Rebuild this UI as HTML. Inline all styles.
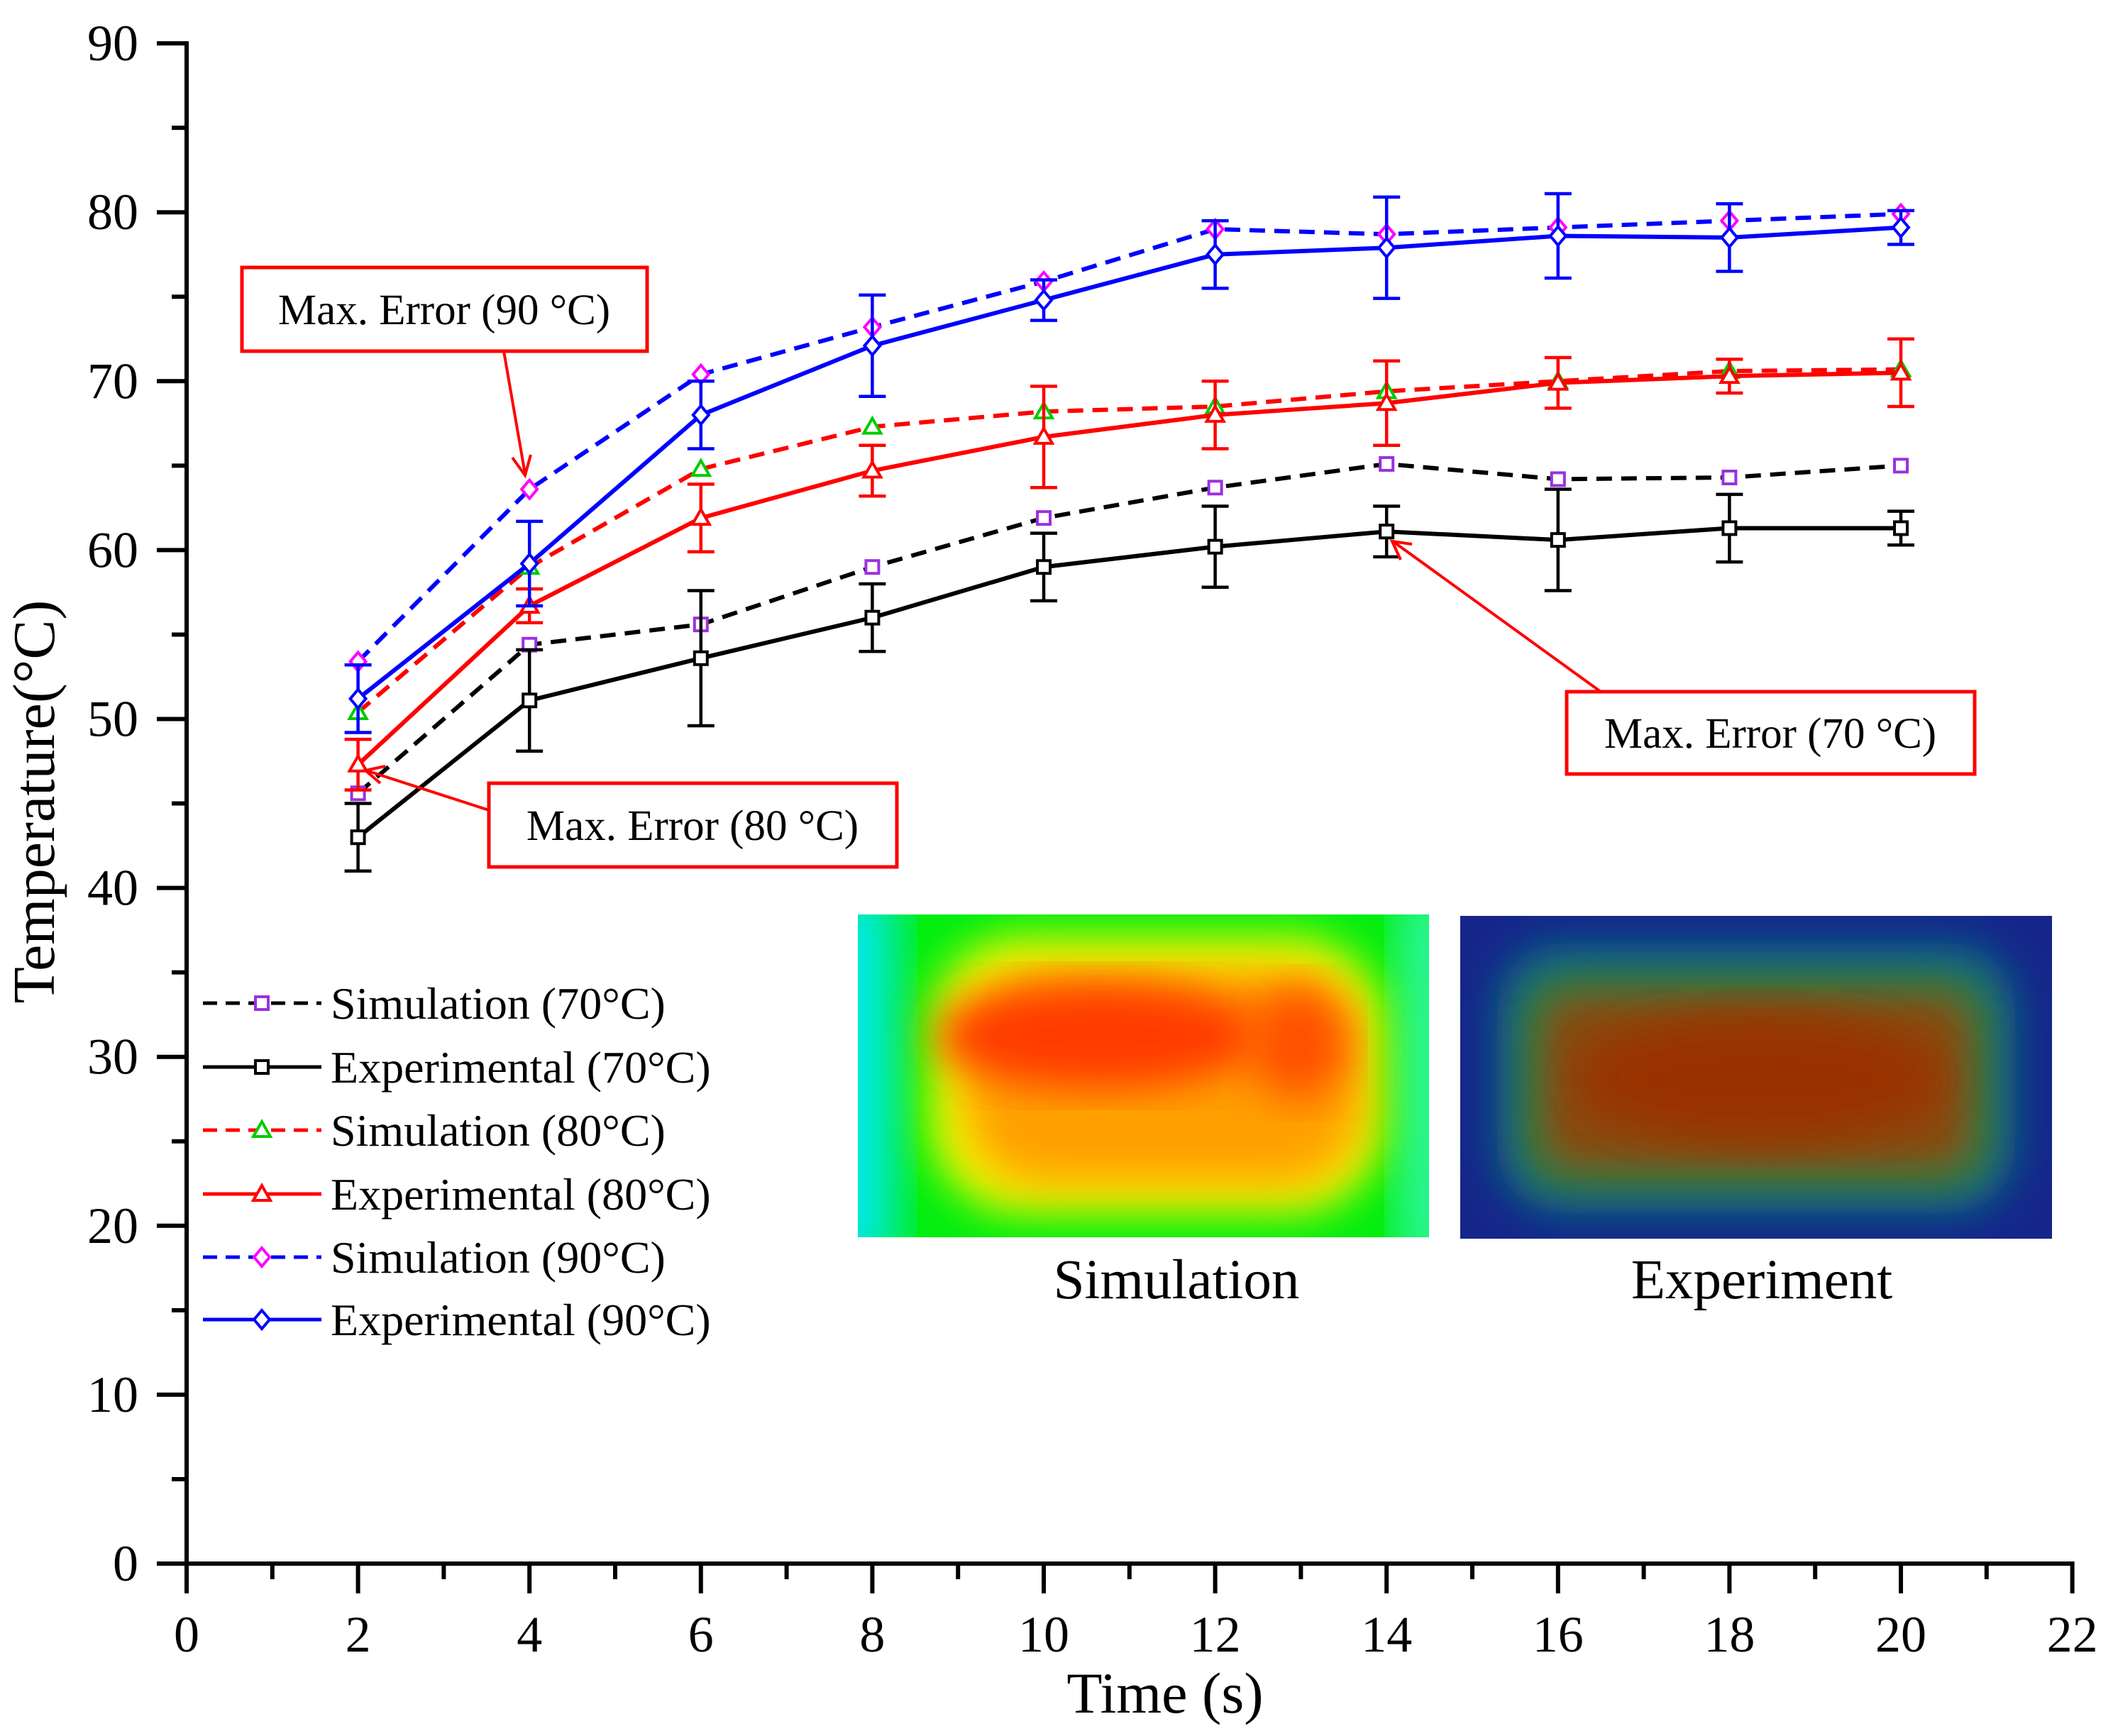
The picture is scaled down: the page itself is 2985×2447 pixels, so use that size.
<!DOCTYPE html>
<html><head><meta charset="utf-8"><style>
html,body{margin:0;padding:0;background:#fff}
svg{display:block}
text{font-family:"Liberation Serif",serif}
</style></head><body>
<svg id="chart" xmlns="http://www.w3.org/2000/svg" width="2985" height="2447" viewBox="0 0 2985 2447">
<defs>
<filter id="blur" x="-20%" y="-20%" width="140%" height="140%"><feGaussianBlur stdDeviation="30"/></filter>
<filter id="blur2" x="-30%" y="-30%" width="160%" height="160%"><feGaussianBlur stdDeviation="35"/></filter>
<clipPath id="c1"><rect x="1209" y="1289" width="805" height="455"/></clipPath>
<clipPath id="c2"><rect x="2058" y="1291" width="834" height="455"/></clipPath>
</defs>
<g id="heatmaps">
<g clip-path="url(#c1)">
<rect x="1209" y="1289" width="805" height="455" fill="#00ee10"/>
<rect x="1150" y="1250" width="110" height="540" fill="#00e8f0" filter="url(#blur2)"/>
<rect x="1975" y="1250" width="80" height="540" fill="#30f8b0" filter="url(#blur2)"/>
<rect x="1310" y="1320" width="640" height="390" rx="130" fill="#f6f600" filter="url(#blur)"/>
<rect x="1360" y="1370" width="560" height="300" rx="110" fill="#ffa000" filter="url(#blur)"/>
<ellipse cx="1550" cy="1460" rx="230" ry="75" fill="#ff3a00" filter="url(#blur)"/>
<ellipse cx="1830" cy="1470" rx="70" ry="80" fill="#ff5000" filter="url(#blur)"/>
</g>
<g clip-path="url(#c2)">
<rect x="2058" y="1291" width="834" height="455" fill="#15258a"/>
<rect x="2110" y="1330" width="730" height="380" rx="90" fill="#0a6a80" filter="url(#blur)"/>
<rect x="2150" y="1380" width="650" height="290" rx="50" fill="#2a8a40" filter="url(#blur)"/>
<rect x="2170" y="1400" width="610" height="250" rx="40" fill="#8a4a08" filter="url(#blur)"/>
<ellipse cx="2480" cy="1520" rx="260" ry="90" fill="#9a3305" filter="url(#blur)"/>
</g>
<text x="1658" y="1830" font-size="79" text-anchor="middle">Simulation</text>
<text x="2483" y="1830" font-size="79" text-anchor="middle">Experiment</text>
</g>
<g id="axes"></g>
<g id="series"></g>
<g id="annotations">
<g>
<rect x="341" y="377" width="571" height="118" fill="#fff" stroke="#ff0000" stroke-width="5"/>
<text x="626" y="457" font-size="61" text-anchor="middle">Max. Error (90 °C)</text>
<line x1="710" y1="495" x2="740" y2="668" stroke="#ff0000" stroke-width="4"/>
<path d="M722,645 L740,670 L748,641" fill="none" stroke="#ff0000" stroke-width="4"/>
</g>
<g>
<rect x="689" y="1104" width="575" height="118" fill="#fff" stroke="#ff0000" stroke-width="5"/>
<text x="976" y="1184" font-size="61" text-anchor="middle">Max. Error (80 °C)</text>
<line x1="689" y1="1142" x2="516" y2="1086" stroke="#ff0000" stroke-width="4"/>
<path d="M543,1080 L515,1086 L536,1104" fill="none" stroke="#ff0000" stroke-width="4"/>
</g>
<g>
<rect x="2208" y="975" width="575" height="116" fill="#fff" stroke="#ff0000" stroke-width="5"/>
<text x="2495" y="1054" font-size="61" text-anchor="middle">Max. Error (70 °C)</text>
<line x1="2256" y1="975" x2="1963" y2="763" stroke="#ff0000" stroke-width="4"/>
<path d="M1974,789 L1962,763 L1990,767" fill="none" stroke="#ff0000" stroke-width="4"/>
</g>
</g>
<g id="legend"></g>
</svg>
<script>
const xVals = [2,4,6,8,10,12,14,16,18,20];
const sim70 = [45.6,54.4,55.6,59.0,61.9,63.7,65.1,64.2,64.3,65.0];
const exp70 = [43.0,51.1,53.6,56.0,59.0,60.2,61.1,60.6,61.3,61.3];
const err70 = [2.0,3.0,4.0,2.0,2.0,2.4,1.5,3.0,2.0,1.0];
const sim80 = [50.4,59.0,64.8,67.3,68.2,68.5,69.4,70.0,70.6,70.7];
const exp80 = [47.3,56.7,61.9,64.7,66.7,68.0,68.7,69.9,70.3,70.5];
const err80 = [1.5,1.0,2.0,1.5,3.0,2.0,2.5,1.5,1.0,2.0];
const sim90 = [53.4,63.6,70.4,73.2,75.9,79.0,78.7,79.1,79.5,79.9];
const exp90 = [51.2,59.2,68.0,72.1,74.8,77.5,77.9,78.6,78.5,79.1];
const err90 = [2.0,2.5,2.0,3.0,1.2,2.0,3.0,2.5,2.0,1.0];
const xTicks = [0,2,4,6,8,10,12,14,16,18,20,22];
const yTicks = [0,10,20,30,40,50,60,70,80,90];
const legendLabels = ["Simulation (70°C)","Experimental (70°C)","Simulation (80°C)","Experimental (80°C)","Simulation (90°C)","Experimental (90°C)"];

const NS="http://www.w3.org/2000/svg";
const X0=263, XS=120.8, Y0=2204, YS=23.81;
function sx(v){return X0+v*XS;}
function sy(v){return Y0-v*YS;}
function mk(tag,attrs,parent){const e=document.createElementNS(NS,tag);for(const k in attrs)e.setAttribute(k,attrs[k]);parent.appendChild(e);return e;}

const axes=document.getElementById('axes');
let a=mk('line',{x1:sx(0),y1:sy(0),x2:sx(22)+3,y2:sy(0),stroke:'#000','stroke-width':6},axes);


a=mk('line',{x1:sx(0),y1:sy(0)+3,x2:sx(0),y2:sy(90)-3,stroke:'#000','stroke-width':6},axes);


for(let v=0;v<=22;v++){
  const major=v%2===0;
  const t=mk('line',{x1:sx(v),y1:sy(0),x2:sx(v),y2:sy(0)+(major?42:22),stroke:'#000','stroke-width':6},axes);
  
  
}
xTicks.forEach(v=>{
  const t=mk('text',{x:sx(v),y:sy(0)+124,'font-size':72,'text-anchor':'middle'},axes);
  t.textContent=v;
  
  
});
for(let v=0;v<=90;v+=5){
  const major=v%10===0;
  const t=mk('line',{x1:sx(0),y1:sy(v),x2:sx(0)-(major?42:21),y2:sy(v),stroke:'#000','stroke-width':6},axes);
  
  
}
yTicks.forEach(v=>{
  const t=mk('text',{x:195,y:sy(v)+24,'font-size':72,'text-anchor':'end'},axes);
  t.textContent=v;
  
  
});
let tt=mk('text',{x:1642,y:2414,'font-size':82,'text-anchor':'middle'},axes);
tt.textContent='Time (s)';


tt=mk('text',{x:0,y:0,'font-size':84,'text-anchor':'middle',transform:'translate(76,1130) rotate(-90)'},axes);
tt.textContent='Temperature(°C)';



function marker(g,shape,x,y,color){
  let e;
  if(shape==='sq') e=mk('rect',{x:x-9,y:y-9,width:18,height:18,fill:'#fff',stroke:color,'stroke-width':4},g);
  else if(shape==='tri') e=mk('path',{d:`M${x},${y-12} L${x+12},${y+9} L${x-12},${y+9} Z`,fill:'#fff',stroke:color,'stroke-width':4},g);
  else e=mk('path',{d:`M${x},${y-13} L${x+11},${y} L${x},${y+13} L${x-11},${y} Z`,fill:'#fff',stroke:color,'stroke-width':4},g);
  
  
}
const seriesG=document.getElementById('series');
const defs=[
  {vals:sim70,err:null,line:'#000',mk:'sq',mc:'#9b30e0',dash:true,name:'simulation-70'},
  {vals:exp70,err:err70,line:'#000',mk:'sq',mc:'#000',dash:false,name:'experimental-70'},
  {vals:sim80,err:null,line:'#ff0000',mk:'tri',mc:'#00cc00',dash:true,name:'simulation-80'},
  {vals:exp80,err:err80,line:'#ff0000',mk:'tri',mc:'#ff0000',dash:false,name:'experimental-80'},
  {vals:sim90,err:null,line:'#0000ff',mk:'dia',mc:'#ff00ff',dash:true,name:'simulation-90'},
  {vals:exp90,err:err90,line:'#0000ff',mk:'dia',mc:'#0000ff',dash:false,name:'experimental-90'}
];
defs.forEach(d=>{
  const g=mk('g',{},seriesG);
  
  
  const pts=d.vals.map((v,i)=>sx(xVals[i])+','+sy(v)).join(' ');
  const pl=mk('polyline',{points:pts,fill:'none',stroke:d.line,'stroke-width':6,'stroke-dasharray':d.dash?'22,13':'none'},g);
  
  
  if(d.err){
    d.vals.forEach((v,i)=>{
      const x=sx(xVals[i]),y1=sy(v+d.err[i]),y2=sy(v-d.err[i]);
      const eb=mk('path',{d:`M${x},${y1} L${x},${y2} M${x-19},${y1} L${x+19},${y1} M${x-19},${y2} L${x+19},${y2}`,stroke:d.line,'stroke-width':4.5,fill:'none'},g);
      
      
    });
  }
  d.vals.forEach((v,i)=>marker(g,d.mk,sx(xVals[i]),sy(v),d.mc));
});

const leg=document.getElementById('legend');
const rowY=[1414,1504,1593,1683,1772,1860];
defs.forEach((d,i)=>{
  const g=mk('g',{},leg);
  
  
  mk('line',{x1:286,y1:rowY[i],x2:453,y2:rowY[i],stroke:d.line,'stroke-width':5,'stroke-dasharray':d.dash?'20,12':'none'},g);
  marker(g,d.mk,369,rowY[i],d.mc);
  const t=mk('text',{x:466,y:rowY[i]+22,'font-size':64},g);
  t.textContent=legendLabels[i];
});
</script>
</body></html>
